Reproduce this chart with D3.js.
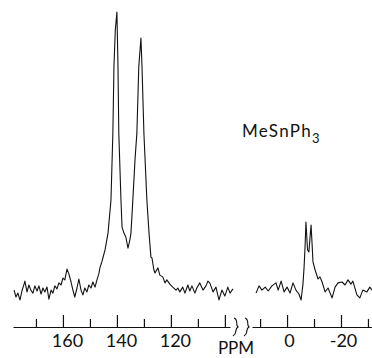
<!DOCTYPE html>
<html>
<head>
<meta charset="utf-8">
<script src="https://cdn.jsdelivr.net/npm/d3@7"></script>
<style>
  body { margin: 0; background: #fff; }
  svg { display: block; }
  .trace { fill: none; stroke: #111; stroke-width: 1.1; stroke-linejoin: round; }
  .axis path, .axis line { stroke: #111; stroke-width: 1.2; }
  .axis text { font-family: Lato, sans-serif; font-size: 18px; fill: #111; }
  .lbl { font-family: Lato, sans-serif; fill: #111; }
</style>
</head>
<body>
<script>
//************************************************************
// Data: [ppm, intensity]
//************************************************************
// aromatic region (left panel)
var aromatic = [
	[178.1, 3.3], [177.4, 1], [176.7, 2.3], [175.9, 0], [175.2, 3], [174.4, 5.3], [174.1, 6.3],
	[173.3, 2.7], [172.6, 5], [171.9, 3.3], [171.1, 2.3], [170.4, 4.7], [169.6, 3], [168.9, 4.7],
	[168.1, 2], [167.4, 4], [166.7, 2.7], [165.9, 4.3], [165.2, 0.3], [164.4, 3.3], [163.7, 2.3],
	[163.0, 4.7], [162.2, 3.7], [161.5, 5.7], [160.7, 5], [160.0, 7.3], [159.3, 6.7], [158.5, 10.3],
	[157.8, 8.7], [157.0, 6], [156.3, 3.3], [155.6, 1], [154.8, 4], [154.1, 7], [153.3, 3.3],
	[152.6, 1.7], [151.9, 4], [151.1, 2.7], [150.4, 5], [149.6, 4], [148.9, 6], [148.1, 4.3],
	[147.4, 6.7], [146.7, 8.7], [146.3, 10.7], [145.6, 12.7], [145.2, 14], [144.4, 16.7],
	[143.3, 22.3], [142.2, 33.3], [141.5, 55.7], [141.1, 77.7], [140.6, 90], [140.0, 96],
	[139.6, 77.7], [139.3, 55.7], [138.5, 33.3], [138.1, 24.3], [137.4, 22.3], [136.7, 21],
	[135.9, 17.3], [135.2, 20], [134.8, 22.3], [134.1, 33.3], [133.3, 46.7], [132.6, 55.7],
	[131.9, 77.7], [131.1, 87.3], [130.7, 77.7], [130.0, 55.7], [128.9, 33.3], [128.1, 22.3],
	[127.4, 14.3], [127.0, 14], [126.3, 10], [125.9, 9], [124.8, 10.7], [124.1, 8.3], [123.0, 7.7],
	[122.2, 5.7], [121.5, 6.7], [120.4, 5.3], [119.3, 4.3], [118.1, 3.3], [117.4, 4], [116.7, 2.7],
	[115.6, 4.3], [114.8, 2.3], [113.7, 5], [113.0, 3], [112.2, 4.7], [111.1, 2.3], [110.4, 4],
	[109.3, 5.7], [108.1, 3.3], [107.0, 4.7], [106.3, 6.3], [105.6, 5.7], [104.4, 2.7], [103.3, 4.3],
	[102.2, 0], [101.1, 3.3], [100.0, 1.3], [98.9, 4.3], [98.1, 2.3], [97.0, 3.7]
];

// methyl region (right panel)
var methyl = [
	[11.5, 2.3], [10.4, 4.7], [9.3, 3.3], [8.1, 4.3], [7.0, 3], [5.6, 4.7], [4.1, 5.7], [3.3, 3.3],
	[2.2, 6.3], [1.1, 2.7], [0, 4.3], [-1.1, 2.3], [-2.2, 5.7], [-3.3, 3.3], [-4.4, 2], [-5.2, 0],
	[-5.9, 5.3], [-6.3, 10.7], [-6.7, 18.3], [-7.0, 26], [-7.6, 16.7], [-8.1, 16], [-8.5, 20.7],
	[-8.9, 25], [-9.3, 18.3], [-9.6, 12.7], [-10.4, 10], [-11.5, 7], [-12.2, 7.7], [-13.0, 6],
	[-14.1, 2.7], [-15.2, 4], [-16.7, 0.7], [-17.8, 4.3], [-18.9, 5.7], [-20.4, 6], [-21.5, 5],
	[-22.6, 6.7], [-23.7, 5.3], [-24.4, 6.3], [-25.9, 1.7], [-27.0, 0.7], [-28.1, 3.3], [-29.6, 2.7],
	[-30.7, 4.3], [-31.5, 3.3]
];

var leftTicks = [170, 160, 150, 140, 130, 120, 110, 100];
var rightTicks = [10, 0, -10, -20, -30];
var leftLabels = [160, 140, 120];
var rightLabels = [0, -20];
var axisTitle = "PPM";
var compound = "MeSnPh";
var compoundSub = "3";

//************************************************************
// Scales and axes
//************************************************************
const width = 372;
const height = 358;
const axisY = 327;

const xLeft = d3.scaleLinear().domain([178.5, 98.1]).range([13, 230]);
const xRight = d3.scaleLinear().domain([13.0, -31.5]).range([252, 372]);
const yScale = d3.scaleLinear().domain([0, 96]).range([300, 12]);

const svg = d3.select("body").append("svg")
	.attr("width", width)
	.attr("height", height);

function drawAxis(scale, ticks, labels, dx) {
	const axis = d3.axisBottom(scale)
		.tickValues(ticks)
		.tickSizeInner(-8)
		.tickSizeOuter(0)
		.tickPadding(7)
		.tickFormat(function (d) {
			return labels.indexOf(d) >= 0 ? (d < 0 ? "-" + Math.abs(d) : d) : "";
		});
	const g = svg.append("g")
		.attr("class", "axis")
		.attr("transform", "translate(0," + axisY + ")")
		.call(axis);
	g.selectAll(".tick line")
		.attr("y2", function (d) { return labels.indexOf(d) >= 0 || d === 100 ? -12 : -8; });
	g.selectAll(".tick text").attr("dx", dx);
	return g;
}

drawAxis(xLeft, leftTicks, leftLabels, 4);
drawAxis(xRight, rightTicks, rightLabels, 2);

// axis break marks
const xb = (xLeft.range()[1] + xRight.range()[0]) / 2;
[-5, 6].forEach(function (off) {
	const cx = xb + off;
	svg.append("path")
		.attr("fill", "none")
		.attr("stroke", "#111")
		.attr("stroke-width", 1.1)
		.attr("d", "M" + (cx - 2) + "," + (axisY - 9) +
			" C" + (cx + 3) + "," + (axisY - 7) + " " + (cx - 1) + "," + (axisY - 2) + " " + (cx + 2) + "," + axisY +
			" C" + (cx - 2) + "," + (axisY + 2) + " " + (cx + 2) + "," + (axisY + 6) + " " + (cx - 3) + "," + (axisY + 9));
});

//************************************************************
// Traces
//************************************************************
const lineLeft = d3.line()
	.x(function (d) { return xLeft(d[0]); })
	.y(function (d) { return yScale(d[1]); });

const lineRight = d3.line()
	.x(function (d) { return xRight(d[0]); })
	.y(function (d) { return yScale(d[1]); });

svg.append("path").attr("class", "trace").attr("d", lineLeft(aromatic));
svg.append("path").attr("class", "trace").attr("d", lineRight(methyl));

// labels
svg.append("text")
	.attr("class", "lbl")
	.attr("x", xb - 5)
	.attr("y", 354)
	.attr("text-anchor", "middle")
	.attr("font-size", 17)
	.text(axisTitle);

const t = svg.append("text")
	.attr("class", "lbl")
	.attr("x", 242)
	.attr("y", 137)
	.attr("font-size", 17)
	.attr("letter-spacing", 1.3)
	.text(compound);
t.append("tspan")
	.attr("dy", 6)
	.attr("font-size", 13)
	.text(compoundSub);
</script>
</body>
</html>
